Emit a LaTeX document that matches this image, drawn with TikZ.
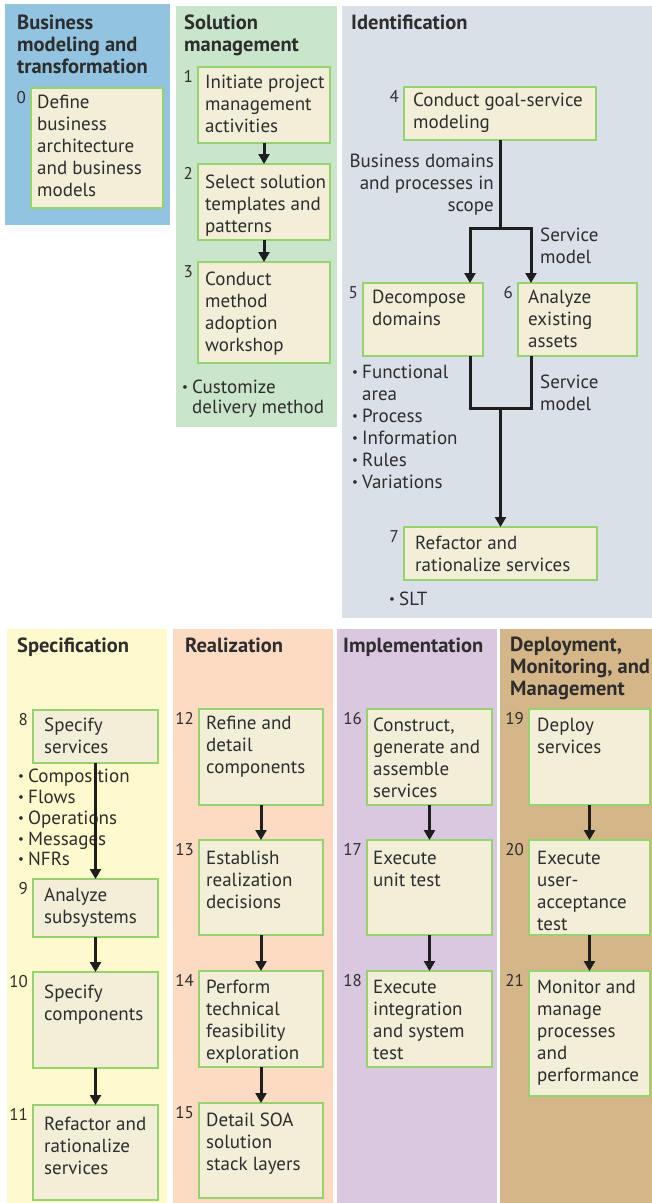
\documentclass[tikz,border=0pt]{standalone}
\usepackage{fontspec}
\setmainfont{PT Sans}
\usetikzlibrary{arrows.meta,calc}
\definecolor{pblue}{RGB}{146,195,224}
\definecolor{pgreen}{RGB}{201,229,203}
\definecolor{pgray}{RGB}{218,224,231}
\definecolor{pyellow}{RGB}{255,250,206}
\definecolor{ppeach}{RGB}{252,219,194}
\definecolor{ppurple}{RGB}{218,199,224}
\definecolor{ptan}{RGB}{213,182,137}
\definecolor{boxfill}{RGB}{242,238,216}
\definecolor{boxedge}{RGB}{150,210,110}
\definecolor{txt}{RGB}{45,45,45}
\definecolor{arr}{RGB}{30,30,30}
\newcommand{\bul}{\makebox[10pt][l]{\raisebox{2pt}{\fontsize{13}{13}\selectfont\textbullet}}}
\newcommand{\bsp}{\hspace*{10pt}}
\newcommand{\procbox}[9]{%
  \pgfmathsetmacro{\bw}{#4-#2}\pgfmathsetmacro{\bh}{#5-#3}%
  \node[pbox,minimum width=\bw pt,minimum height=\bh pt,anchor=north west] (#1) at (#2,#3) {};%
  \node[ptext,anchor=north west] (#1t) at (#7,#8-7) {#9};%
  \node[pnum,anchor=north east] (#1n) at (#2-5,#3+3) {#6};%
}
\tikzset{
  pbox/.style={draw=boxedge,fill=boxfill,line width=1.8pt,inner sep=0pt,outer sep=0pt},
  ptext/.style={inner sep=0pt,align=left,font=\fontsize{19}{22}\selectfont,text=txt},
  plabel/.style={inner sep=0pt,font=\fontsize{19}{22}\selectfont,text=txt},
  pnum/.style={inner sep=0pt,font=\fontsize{17}{20}\selectfont,text=txt},
  ptitle/.style={inner sep=0pt,align=left,font=\fontsize{20.5}{22}\selectfont\bfseries,text=txt},
  flow/.style={line width=3pt,draw=arr},
  flowarrow/.style={flow,-{Triangle[width=11pt,length=10pt]}},
}
\begin{document}
\begin{tikzpicture}[x=1pt,y=-1pt]
\useasboundingbox (0,0) rectangle (652,1203);
% panels
\fill[pblue] (5,4) rectangle (170,225);
\fill[pgreen] (176,6) rectangle (337,427);
\fill[pgray] (342,6) rectangle (652,618);
\fill[pyellow] (7,629) rectangle (167,1203);
\fill[ppeach] (173,629) rectangle (333,1203);
\fill[ppurple] (337,629) rectangle (497,1203);
\fill[ptan] (500,629) rectangle (652,1203);
% titles
\node[ptitle,anchor=north west] (tbm) at (17,15) {Business\\modeling and\\transformation};
\node[ptitle,anchor=north west] (tsm) at (184,15) {Solution\\management};
\node[ptitle,anchor=north west] (tid) at (351,15) {Identification};
\node[ptitle,anchor=north west] (tsp) at (17,638) {Specification};
\node[ptitle,anchor=north west] (tre) at (185,638) {Realization};
\node[ptitle,anchor=north west] (tim) at (343,638) {Implementation};
\node[ptitle,anchor=north west] (tde) at (510,637) {Deployment,\\Monitoring, and\\Management};
% boxes
\procbox{b0}{31}{88}{163}{208}{0}{37}{102}{Define\\business\\architecture\\and business\\models}
\procbox{b1}{198}{67}{330}{143}{1}{205}{82}{Initiate project\\management\\activities}
\procbox{b2}{198}{164}{330}{240}{2}{205}{182}{Select solution\\templates and\\patterns}
\procbox{b3}{198}{262}{330}{363}{3}{205}{279}{Conduct\\method\\adoption\\workshop}
\procbox{b4}{404}{87}{596}{140}{4}{413}{100}{Conduct goal-service\\modeling}
\procbox{b5}{363}{283}{483}{356}{5}{372}{297}{Decompose\\domains}
\procbox{b6}{518}{283}{637}{356}{6}{528}{297}{Analyze\\existing\\assets}
\procbox{b7}{404}{527}{597}{580}{7}{415}{543}{Refactor and\\rationalize services}
\procbox{b8}{33}{710}{158}{763}{8}{44}{725}{Specify\\services}
\procbox{b9}{33}{879}{158}{937}{9}{44}{895}{Analyze\\subsystems}
\procbox{b10}{33}{972}{158}{1068}{10}{44}{992}{Specify\\components}
\procbox{b11}{33}{1105}{158}{1200}{11}{44}{1124}{Refactor and\\rationalize\\services}
\procbox{b12}{199}{709}{323}{805}{12}{206}{723}{Refine and\\detail\\components}
\procbox{b13}{199}{840}{323}{935}{13}{206}{858}{Establish\\realization\\decisions}
\procbox{b14}{199}{971}{323}{1067}{14}{206}{987}{Perform\\technical\\feasibility\\exploration}
\procbox{b15}{199}{1103}{323}{1198}{15}{206}{1120}{Detail SOA\\solution\\stack layers}
\procbox{b16}{367}{709}{492}{805}{16}{373}{725}{Construct,\\generate and\\assemble\\services}
\procbox{b17}{367}{840}{492}{935}{17}{373}{858}{Execute\\unit test}
\procbox{b18}{367}{971}{492}{1067}{18}{373}{987}{Execute\\integration\\and system\\test}
\procbox{b19}{529}{709}{650}{805}{19}{537}{725}{Deploy\\services}
\procbox{b20}{529}{840}{650}{935}{20}{537}{858}{Execute\\user-\\acceptance\\test}
\procbox{b21}{529}{971}{650}{1096}{21}{537}{987}{Monitor and\\manage\\processes\\and\\performance}
% labels and bullets
\node[ptext,anchor=north west,font=\fontsize{19}{20}\selectfont] (cust) at (182,380) {\bul Customize\\\bsp delivery method};
\node[plabel,align=right,anchor=north east] (lscope) at (494,154) {Business domains\\and processes in\\scope};
\node[plabel,align=left,anchor=north west] (lsm1) at (540,228) {Service\\model};
\node[plabel,align=left,anchor=north west] (lsm2) at (540,375) {Service\\model};
\node[ptext,anchor=north west] (idbul) at (352,365) {\bul Functional\\\bsp area\\\bul Process\\\bul Information\\\bul Rules\\\bul Variations};
\node[ptext,anchor=north west] (slt) at (389,592) {\bul SLT};
\node[ptext,anchor=north west,font=\fontsize{19}{20.8}\selectfont] (spbul) at (18,769) {\bul Composition\\\bul Flows\\\bul Operations\\\bul Messages\\\bul NFRs};
% connectors
\draw[flowarrow] (b1.south) -- (b2.north);
\draw[flowarrow] (b2.south) -- (b3.north);
\coordinate (j1) at ([yshift=-88pt]b4.south);
\draw[flow] (b4.south) -- (j1);
\draw[flowarrow] (j1) -| ([xshift=47pt]b5.north);
\draw[flowarrow] (j1) -| ([xshift=-46.5pt]b6.north);
\coordinate (h) at ([xshift=-46.5pt,yshift=-52pt]b6.south);
\draw[flow] ([xshift=47pt]b5.south) |- (h) -- ([xshift=-46.5pt]b6.south);
\coordinate (j2) at (b7.north |- h);
\draw[flowarrow] (j2) -- (b7.north);
\draw[flowarrow] (b8.south) -- (b9.north);
\draw[flowarrow] (b9.south) -- (b10.north);
\draw[flowarrow] (b10.south) -- (b11.north);
\draw[flowarrow] (b12.south) -- (b13.north);
\draw[flowarrow] (b13.south) -- (b14.north);
\draw[flowarrow] (b14.south) -- (b15.north);
\draw[flowarrow] (b16.south) -- (b17.north);
\draw[flowarrow] (b17.south) -- (b18.north);
\draw[flowarrow] (b19.south) -- (b20.north);
\draw[flowarrow] (b20.south) -- (b21.north);
\end{tikzpicture}
\end{document}
